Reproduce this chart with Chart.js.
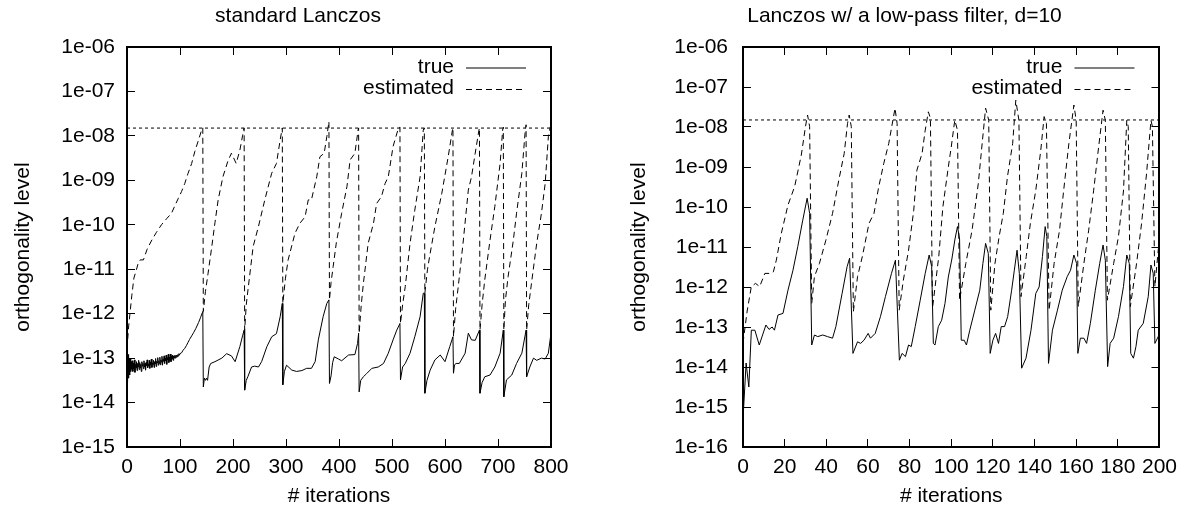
<!DOCTYPE html>
<html><head><meta charset="utf-8">
<script src="https://cdn.jsdelivr.net/npm/chart.js@4"></script>
<style>
html,body{margin:0;padding:0;background:#fff;width:1193px;height:509px;overflow:hidden}
canvas{position:absolute;top:0}
#c1{left:0}
#c2{left:616px}
</style></head><body>
<canvas id="c1" width="596" height="509"></canvas>
<canvas id="c2" width="577" height="509"></canvas>
<script>
// ---------- data (iteration, log10 of orthogonality level) ----------
const panelTitles = ['standard Lanczos', 'Lanczos w/ a low-pass filter, d=10'];
const xAxisTitle = '# iterations';
const yAxisTitle = 'orthogonality level';
const seriesNames = ['true', 'estimated'];
const thresholdLevel = 1.5e-8;

const leftXTicks = [0,100,200,300,400,500,600,700,800];
const rightXTicks = [0,20,40,60,80,100,120,140,160,180,200];
const leftYTicks = [1e-15,1e-14,1e-13,1e-12,1e-11,1e-10,1e-9,1e-8,1e-7,1e-6];
const leftYLabels = ['1e-15','1e-14','1e-13','1e-12','1e-11','1e-10','1e-09','1e-08','1e-07','1e-06'];
const rightYTicks = [1e-16,1e-15,1e-14,1e-13,1e-12,1e-11,1e-10,1e-9,1e-8,1e-7,1e-6];
const rightYLabels = ['1e-16','1e-15','1e-14','1e-13','1e-12','1e-11','1e-10','1e-09','1e-08','1e-07','1e-06'];

const leftTrue = [
[0,-13.05],[1,-13.55],[2,-12.92],[3,-13.45],[4,-13.0],[5,-13.38],[6,-13.02],[7,-13.3],[8,-13.08],[9,-13.25],
[10,-13.06],[11,-13.3],[12,-13.12],[13,-13.24],[14,-13.04],[15,-13.32],[16,-13.14],[17,-13.22],[18,-13.08],[19,-13.28],
[20,-13.12],[21,-13.2],[22,-13.05],[23,-13.26],[24,-13.1],[25,-13.22],[26,-13.14],[27,-13.3],[28,-13.08],[29,-13.18],
[30,-13.12],[31,-13.24],[32,-13.06],[33,-13.2],[34,-13.12],[35,-13.27],[36,-13.1],[37,-13.17],[38,-13.04],[39,-13.22],
[40,-13.13],[41,-13.18],[42,-13.05],[43,-13.23],[44,-13.09],[45,-13.15],[46,-13.02],[47,-13.21],[48,-13.11],[49,-13.14],
[50,-13.05],[51,-13.21],[52,-13.08],[53,-13.13],[54,-13.01],[55,-13.19],[56,-13.07],[57,-13.11],[58,-12.99],[59,-13.16],
[60,-13.06],[61,-13.12],[62,-12.98],[63,-13.15],[64,-13.04],[65,-13.09],[66,-12.96],[67,-13.16],[68,-13.03],[69,-13.07],
[70,-12.95],[71,-13.12],[72,-13.0],[73,-13.06],[74,-12.93],[75,-13.14],[76,-12.99],[77,-13.04],[78,-12.91],[79,-13.1],
[80,-12.98],[81,-13.05],[82,-12.91],[83,-13.08],[84,-12.96],[85,-13.02],[86,-12.93],[87,-13.05],[88,-12.95],[89,-13.0],
[90,-12.94],[91,-13.0],[92,-12.94],[93,-12.98],[94,-12.93],[95,-12.97],[96,-12.92],[97,-12.95],[98,-12.9],[99,-12.93],[100,-12.9],
[103,-12.88],[106,-12.82],[109,-12.78],[112,-12.72],[115,-12.65],[118,-12.58],[122,-12.5],[126,-12.42],[130,-12.33],
[135,-12.2],[139,-12.08],[142,-11.98],[143,-11.95],[144,-13.65],[146,-13.45],[148,-13.5],[150,-13.45],[152,-13.5],
[155,-13.2],[158,-13.12],[166,-13.08],[179,-13.0],[188,-12.9],[197,-12.95],[204,-13.08],[213,-12.74],[218,-12.5],
[221,-12.37],[222,-13.72],[225,-13.5],[228,-13.42],[235,-13.2],[241,-13.18],[248,-13.2],[254,-13.08],[264,-12.74],
[273,-12.52],[282,-12.45],[289,-12.07],[293,-11.77],[294,-13.6],[297,-13.3],[301,-13.16],[311,-13.27],[320,-13.3],
[330,-13.28],[339,-13.23],[348,-13.23],[355,-13.08],[361,-12.59],[370,-12.07],[377,-11.77],[381,-11.69],[382,-13.57],
[385,-13.4],[388,-13.1],[391,-12.97],[399,-13.02],[405,-13.06],[418,-12.93],[430,-12.92],[435,-12.67],[437,-12.44],
[438,-13.76],[441,-13.5],[446,-13.42],[452,-13.35],[462,-13.23],[474,-13.2],[484,-13.12],[493,-12.89],[502,-12.59],
[509,-12.37],[515,-12.22],[516,-13.49],[520,-13.2],[525,-13.12],[534,-12.89],[543,-12.52],[553,-12.07],[559,-11.54],
[561,-11.54],[562,-13.79],[566,-13.5],[572,-13.27],[581,-13.04],[591,-12.93],[600,-13.08],[609,-12.74],[615,-12.52],
[616,-13.34],[618,-13.15],[621,-13.12],[627,-13.12],[638,-12.89],[644,-12.44],[650,-12.59],[657,-12.6],[665,-12.37],
[666,-13.79],[670,-13.55],[675,-13.42],[685,-13.38],[694,-13.2],[704,-12.89],[710,-12.37],[711,-13.87],[716,-13.49],
[726,-13.38],[735,-13.12],[745,-12.89],[753,-12.37],[754,-13.42],[760,-13.2],[767,-13.0],[773,-13.05],[782,-13.0],
[789,-13.02],[795,-12.89],[800,-12.44]
];

const leftEstimated = [
[0,-12.8],[3,-12.3],[6,-11.95],[9,-11.6],[13,-11.2],[18,-11.0],[21,-10.87],[25,-10.79],[31,-10.79],[38,-10.55],
[47,-10.34],[55,-10.18],[65,-10.0],[75,-9.86],[84,-9.74],[90,-9.58],[97,-9.4],[103,-9.25],[109,-9.07],[115,-8.85],
[122,-8.62],[128,-8.35],[135,-8.09],[140,-7.9],[143,-7.82],[144,-11.95],[148,-11.5],[153,-11.09],[160,-10.49],
[166,-9.95],[172,-9.44],[181,-8.92],[190,-8.58],[197,-8.39],[206,-8.62],[213,-8.32],[218,-8.0],[221,-7.82],
[222,-12.37],[225,-11.8],[229,-11.39],[238,-10.49],[248,-10.04],[260,-9.44],[273,-8.84],[282,-8.62],[289,-8.09],
[293,-7.82],[294,-11.77],[299,-11.2],[304,-10.79],[317,-10.19],[326,-9.97],[336,-9.82],[342,-9.44],[348,-9.44],
[358,-8.92],[364,-8.47],[372,-8.39],[377,-8.02],[381,-7.68],[382,-11.69],[385,-11.3],[389,-10.94],[395,-10.4],
[405,-9.74],[415,-9.14],[421,-8.54],[430,-8.39],[436,-7.87],[437,-7.82],[438,-12.44],[442,-11.8],[446,-11.32],
[455,-10.42],[465,-9.97],[471,-9.52],[480,-9.37],[487,-9.07],[493,-8.92],[502,-8.24],[512,-7.83],[515,-7.8],
[516,-12.22],[520,-11.8],[525,-11.39],[534,-10.42],[543,-9.67],[553,-8.92],[559,-7.87],[561,-7.82],[562,-11.54],
[567,-11.0],[572,-10.64],[581,-10.04],[594,-9.29],[606,-8.47],[614,-7.87],[615,-7.82],[616,-12.52],[620,-11.9],
[625,-11.39],[634,-10.42],[644,-9.22],[650,-8.92],[657,-8.39],[664,-7.87],[665,-7.82],[666,-12.37],[670,-11.8],
[675,-11.24],[685,-10.34],[694,-9.59],[704,-8.62],[709,-7.83],[710,-7.8],[711,-12.37],[714,-11.7],[719,-11.17],
[729,-10.34],[735,-9.74],[745,-8.84],[751,-7.94],[753,-7.75],[754,-12.37],[758,-11.8],[764,-11.24],[773,-10.42],
[782,-9.74],[789,-9.07],[795,-8.02],[798,-7.83],[800,-7.75]
];

const rightTrue = [
[0,-15.3],[1.5,-13.9],[2.8,-14.5],[4,-13.08],[5.7,-13.08],[7.8,-13.45],[11,-12.95],[12.5,-13.06],[14,-13.0],
[15.1,-13.08],[16.8,-12.7],[19.2,-12.66],[21.6,-12.08],[24,-11.58],[26.3,-10.99],[28.7,-10.33],[30.8,-9.78],
[32,-10.16],[33,-13.45],[34.3,-13.2],[35.9,-13.24],[38.3,-13.2],[40.6,-13.24],[43,-13.28],[44.6,-12.99],
[47.6,-12.16],[50,-11.49],[51.2,-11.28],[52.8,-13.66],[55,-13.37],[56.5,-13.41],[58.1,-13.33],[60.1,-13.16],
[61.2,-13.28],[63.5,-13.16],[66,-12.74],[68.4,-12.24],[71.3,-11.66],[73.2,-11.33],[75.1,-13.83],[76.4,-13.66],
[78,-13.74],[79.5,-13.45],[80.8,-13.49],[82.7,-12.99],[85.1,-12.33],[87.5,-11.66],[89.4,-11.2],[90.6,-11.49],
[91.4,-13.41],[92.2,-13.45],[93.8,-12.99],[95.4,-12.83],[97,-12.41],[98.6,-11.75],[100.3,-11.3],[101.8,-10.8],
[103,-10.49],[104,-10.8],[104.8,-13.33],[106.2,-13.33],[107.3,-13.45],[108.9,-13.08],[111.3,-12.58],[113.7,-12.08],
[115.2,-11.41],[116.5,-10.91],[117.8,-11.16],[118.7,-13.66],[120,-13.33],[121.3,-13.16],[122.7,-13.41],[124,-12.99],
[125.6,-12.99],[127.1,-12.74],[129,-12.08],[130.3,-11.58],[131.6,-11.08],[132.7,-11.66],[133.8,-14.03],[135.9,-13.78],
[138.3,-13.08],[140.6,-12.16],[142.2,-12.0],[143.8,-11.24],[145.1,-10.49],[145.9,-10.74],[146.7,-13.91],[148.6,-13.08],
[151,-12.58],[153.3,-12.08],[155.7,-11.74],[157.3,-11.58],[158.9,-11.2],[160.2,-11.41],[160.8,-13.66],[162,-13.28],
[163.7,-13.28],[165,-13.41],[166.8,-12.91],[169.2,-12.08],[171.3,-11.41],[172.9,-10.95],[174,-11.33],[175.1,-13.99],
[176.3,-13.41],[178,-13.28],[180.3,-12.74],[182.7,-11.99],[184.3,-11.2],[185.5,-11.41],[186.2,-13.66],[187.5,-13.78],
[188.7,-13.49],[189.8,-13.08],[192.2,-12.91],[194.6,-12.24],[195.9,-11.45],[197,-11.66],[197.8,-13.41],[199.4,-13.24],
[200,-13.16]
];

const rightEstimated = [
[0,-13.4],[2,-12.6],[4,-11.99],[6,-11.91],[8,-11.99],[10.5,-11.66],[13,-11.66],[14.6,-11.62],[16,-11.33],
[18.4,-10.66],[21.6,-9.95],[24.8,-9.49],[28,-8.7],[30,-7.99],[31,-7.7],[32,-7.99],[33,-12.41],[34.3,-11.74],
[36.7,-11.41],[39.8,-10.83],[43,-10.16],[46,-9.33],[48.6,-8.66],[50.2,-7.91],[51,-7.7],[52,-7.99],[53,-12.62],
[55,-11.74],[57.3,-11.24],[60.5,-10.41],[62.9,-10.16],[65.2,-9.49],[67.6,-8.91],[70,-8.41],[73,-7.53],[74,-7.91],
[75,-12.58],[77,-11.83],[79.5,-11.08],[82,-10.08],[83.5,-9.08],[86,-8.66],[87.5,-8.08],[89,-7.62],[90,-7.78],
[91,-12.53],[94,-11.24],[96,-9.99],[98.6,-9.0],[100,-8.5],[101.7,-7.83],[103,-8.08],[104,-12.33],[107,-11.41],
[110,-10.58],[113,-9.41],[115,-8.33],[116.5,-7.53],[118,-7.83],[119,-12.58],[121,-11.41],[123,-10.74],[125,-10.16],
[127,-9.24],[129.5,-8.41],[131,-7.33],[132.5,-7.83],[133.5,-12.24],[136,-11.24],[138,-10.41],[140.6,-9.58],
[143,-8.58],[144.6,-7.74],[145.7,-7.91],[147,-12.58],[149.4,-11.41],[152,-10.58],[154,-9.58],[156.5,-8.41],
[158.9,-7.45],[160,-7.83],[161,-12.49],[163.7,-11.41],[166,-10.58],[168.4,-9.58],[170.8,-8.49],[172.9,-7.58],
[174,-7.83],[175,-12.33],[178,-11.41],[180.3,-10.74],[182.7,-9.6],[184.3,-7.83],[185,-7.99],[186,-12.49],
[189,-11.41],[191.4,-10.41],[193.8,-9.16],[195.9,-7.83],[196.6,-7.99],[197.8,-11.99],[199.4,-11.08],[200,-10.83]
];

// ---------- rendering ----------
const FONT = 'Liberation Sans, Arial, Helvetica, sans-serif';
Chart.defaults.font.family = FONT;
Chart.defaults.font.size = 21;
Chart.defaults.color = '#000';

const toPoints = arr => arr.map(p => ({x: p[0], y: Math.pow(10, p[1])}));

const legendPlugin = {
  id: 'gpLegend',
  afterDatasetsDraw(chart) {
    const {ctx, chartArea: a} = chart;
    ctx.save();
    ctx.font = '21px ' + FONT;
    ctx.fillStyle = '#000';
    ctx.strokeStyle = '#000';
    ctx.lineWidth = 1;
    ctx.textAlign = 'right';
    ctx.textBaseline = 'middle';
    const dashes = [[], [6, 4]];
    seriesNames.forEach((name, i) => {
      const y = a.top + 20 + i * 21.5;
      ctx.fillText(name, a.right - 97, y);
      ctx.beginPath();
      ctx.setLineDash(dashes[i]);
      ctx.moveTo(a.right - 85, y + 1);
      ctx.lineTo(a.right - 25, y + 1);
      ctx.stroke();
    });
    ctx.restore();
  }
};

function makePanel(canvasId, cfg) {
  const tickOpts = v => ({value: v});
  const gridOpts = {drawOnChartArea: false, drawTicks: true, tickLength: -8, color: '#000', lineWidth: 1};
  const borderOpts = {display: true, color: '#000', width: 2};
  new Chart(document.getElementById(canvasId), {
    type: 'line',
    data: {
      datasets: [
        {label: seriesNames[0], data: toPoints(cfg.trueData), borderColor: '#000', borderWidth: 1, pointRadius: 0, tension: 0, fill: false},
        {label: seriesNames[1], data: toPoints(cfg.estData), borderColor: '#000', borderWidth: 1, borderDash: [6, 4], pointRadius: 0, tension: 0, fill: false},
        {label: 'threshold', data: [{x: cfg.xTicks[0], y: thresholdLevel}, {x: cfg.xTicks[cfg.xTicks.length - 1], y: thresholdLevel}], borderColor: '#000', borderWidth: 1, borderDash: [3, 3], pointRadius: 0, fill: false}
      ]
    },
    options: {
      responsive: false,
      animation: false,
      devicePixelRatio: 1,
      layout: {padding: 0},
      plugins: {
        legend: {display: false},
        tooltip: {enabled: false},
        title: {display: true, text: cfg.title, color: '#000', font: {size: 21, weight: 'normal'}, padding: {top: 4, bottom: 0}}
      },
      scales: {
        x: {
          type: 'linear', position: 'bottom', min: cfg.xTicks[0], max: cfg.xTicks[cfg.xTicks.length - 1],
          afterBuildTicks: s => { s.ticks = cfg.xTicks.map(tickOpts); },
          afterFit: s => { s.height = 62; },
          ticks: {padding: 16, maxRotation: 0, autoSkip: false, callback: v => String(v), font: {size: 21}},
          grid: gridOpts, border: borderOpts,
          title: {display: true, text: xAxisTitle, font: {size: 21}, padding: {top: 0, bottom: 0}}
        },
        x2: {
          type: 'linear', position: 'top', min: cfg.xTicks[0], max: cfg.xTicks[cfg.xTicks.length - 1],
          afterBuildTicks: s => { s.ticks = cfg.xTicks.map(tickOpts); },
          afterFit: s => { s.height = 17.8; },
          ticks: {display: false}, grid: gridOpts, border: borderOpts
        },
        y: {
          type: 'logarithmic', position: 'left', min: cfg.yTicks[0], max: cfg.yTicks[cfg.yTicks.length - 1],
          afterBuildTicks: s => { s.ticks = cfg.yTicks.map(tickOpts); },
          afterFit: s => { s.width = cfg.leftW; },
          ticks: {padding: cfg.yPad, autoSkip: false, font: {size: 21}, callback: (v, i) => cfg.yLabels[i]},
          grid: gridOpts, border: borderOpts,
          title: {display: true, text: yAxisTitle, font: {size: 21}, padding: {top: cfg.yTitlePad, bottom: 0}}
        },
        y2: {
          type: 'logarithmic', position: 'right', min: cfg.yTicks[0], max: cfg.yTicks[cfg.yTicks.length - 1],
          afterBuildTicks: s => { s.ticks = cfg.yTicks.map(tickOpts); },
          afterFit: s => { s.width = cfg.rightW; },
          ticks: {display: false}, grid: gridOpts, border: borderOpts
        }
      }
    },
    plugins: [legendPlugin]
  });
}

makePanel('c1', {title: panelTitles[0], trueData: leftTrue, estData: leftEstimated, xTicks: leftXTicks,
  yTicks: leftYTicks, yLabels: leftYLabels, leftW: 127, rightW: 45, yPad: 20, yTitlePad: 11});
makePanel('c2', {title: panelTitles[1], trueData: rightTrue, estData: rightEstimated, xTicks: rightXTicks,
  yTicks: rightYTicks, yLabels: rightYLabels, leftW: 127, rightW: 30, yPad: 23, yTitlePad: 11});
</script>
</body></html>
